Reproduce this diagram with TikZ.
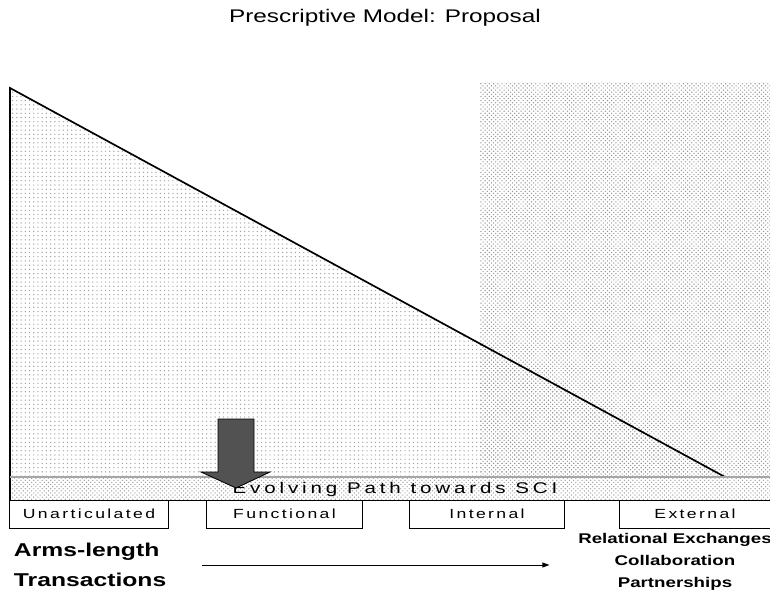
\documentclass[tikz,border=0pt]{standalone}
\usepackage{fontspec}
\setmainfont{Liberation Sans}[FakeStretch=1.33]
\newfontfamily\spaced{Liberation Sans}[FakeStretch=1.33, LetterSpace=18]
\usetikzlibrary{patterns,arrows.meta}

\begin{document}
\begin{tikzpicture}[x=0.025cm, y=-0.025cm,
    stage/.style={shape=rectangle, draw, line width=0.7pt, minimum height=0.7cm,
      inner sep=0pt, font=\spaced\fontsize{9.4}{11}\selectfont},
    outcome/.style={font=\bfseries\fontsize{10}{15.6}\selectfont, align=center}]
    \useasboundingbox (0, 0) rectangle (770, 590);

    \node (title) at (385, 18) {\fontsize{13}{15}\selectfont Prescriptive Model: Proposal};

    % textured backdrop
    \fill [pattern=dots, pattern color=gray!75] (10, 88) -- (10, 477) -- (725, 477) -- cycle;
    \fill [pattern=crosshatch dots, pattern color=gray!85] (480, 83) rectangle (770, 477);
    \fill [pattern=crosshatch dots, pattern color=gray!75] (10, 477) rectangle (770, 500);

    \draw [line width=1.2pt] (725, 477) -- (10, 88) -- (10, 500);
    \draw [gray!70, line width=0.9pt] (10, 477) -- (770, 477);
    \draw [line width=0.7pt] (10, 500) -- (770, 500);

    \node (path) at (395, 489) {\spaced\fontsize{11}{12}\addfontfeature{LetterSpace=25}\selectfont Evolving Path towards SCI};

    % stages along the path
    \node (unart) [stage, minimum width=3.95cm] at (89, 514) {Unarticulated};
    \node (func) [stage, minimum width=3.875cm] at (284.5, 514) {Functional};
    \node (intern) [stage, minimum width=3.85cm] at (487, 514) {Internal};
    \node (extern) [stage, minimum width=3.75cm] at (695, 514) {External};

    % current position
    \draw [fill=black!68, line width=0.6pt] (218, 419) -- (254, 419) -- (254, 472) -- (270, 472)
      -- (236, 488) -- (201, 472) -- (218, 472) -- cycle;

    \node (arms) [anchor=west, align=left, font=\bfseries\fontsize{13.2}{21}\selectfont] at (9, 565)
      {Arms-length\\Transactions};
    \node (rel) [outcome] at (675, 562) {Relational Exchanges\\Collaboration\\Partnerships};

    \draw [-{Triangle[length=5pt, width=3.5pt]}, line width=0.6pt, shorten <=22pt, shorten >=17pt]
      (arms.east) -- (rel.west |- arms.east);
  \end{tikzpicture}
\end{document}
